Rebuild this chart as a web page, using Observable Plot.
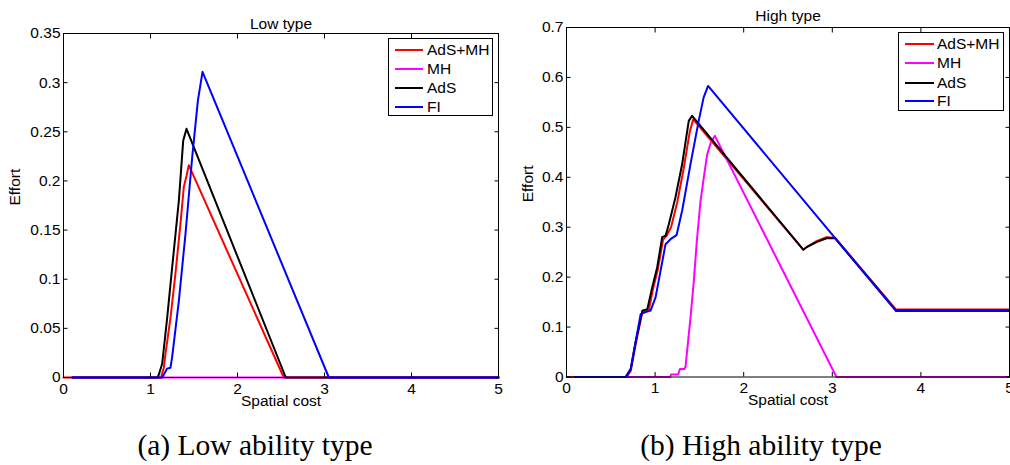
<!DOCTYPE html>
<html>
<head>
<meta charset="utf-8">
<script src="https://cdn.jsdelivr.net/npm/d3@7"></script>
<script src="https://cdn.jsdelivr.net/npm/@observablehq/plot@0.6"></script>
<style>
  html, body { margin: 0; padding: 0; background: white; overflow: hidden; }
  #wrap { position: relative; width: 1010px; height: 465px; overflow: hidden; background: white; }
  #wrap svg { position: absolute; top: 0; max-width: none !important; }
  .legend { position: absolute; border: 1px solid black; background: white; box-sizing: border-box;
            font-family: "Liberation Sans", Arial, sans-serif; font-size: 15.5px; color: black; }
  .legend .lab { position: absolute; white-space: nowrap; line-height: 18px; }
  .caption { position: absolute; font-family: "Liberation Serif", "Times New Roman", serif; font-size: 29.5px;
             color: black; white-space: nowrap; transform: translateX(-50%); line-height: 1; }
</style>
</head>
<body>
<div id="wrap"></div>
<script>
// ---------- data ----------
const seriesNames = ["AdS+MH", "MH", "AdS", "FI"];
const seriesColors = ["#ff0000", "#ff00ff", "#000000", "#0000ff"];

const xTicks = [0, 1, 2, 3, 4, 5];
const lowYTicks = [0, 0.05, 0.1, 0.15, 0.2, 0.25, 0.3, 0.35];
const highYTicks = [0, 0.1, 0.2, 0.3, 0.4, 0.5, 0.6, 0.7];

// Low type
const lowAdsMhX = [0, 1.12, 1.153, 1.172, 1.23, 1.287, 1.345, 1.383, 1.414, 1.44, 2.532, 5];
const lowAdsMhY = [0, 0, 0.010, 0.024, 0.061, 0.106, 0.157, 0.194, 0.205, 0.216, 0, 0];
const lowMhX = [0.1, 5];
const lowMhY = [0, 0];
const lowAdsX = [0.1, 1.08, 1.096, 1.134, 1.192, 1.249, 1.326, 1.376, 1.414, 2.555, 5];
const lowAdsY = [0, 0, 0.003, 0.014, 0.061, 0.112, 0.18, 0.241, 0.253, 0, 0];
const lowFiX = [0.1, 1.134, 1.16, 1.19, 1.23, 1.249, 1.326, 1.402, 1.479, 1.545, 1.598, 3.05, 5];
const lowFiY = [0, 0, 0.004, 0.009, 0.010, 0.021, 0.078, 0.146, 0.224, 0.282, 0.311, 0, 0];

// High type
const highAdsMhX = [0, 0.68, 0.725, 0.78, 0.856, 0.93, 0.975, 1.03, 1.09, 1.13, 1.18, 1.25, 1.32, 1.39, 1.43, 2.672, 2.71, 2.822, 2.935, 3.03, 3.72, 5];
const highAdsMhY = [0, 0, 0.012, 0.065, 0.13, 0.135, 0.175, 0.215, 0.275, 0.283, 0.30, 0.35, 0.415, 0.49, 0.516, 0.255, 0.26, 0.272, 0.28, 0.279, 0.135, 0.135];
const highMhX = [0.1, 1.17, 1.18, 1.26, 1.28, 1.33, 1.343, 1.40, 1.436, 1.47, 1.511, 1.55, 1.587, 1.63, 1.675, 3.047, 5];
const highMhY = [0, 0, 0.005, 0.005, 0.016, 0.016, 0.02, 0.12, 0.19, 0.27, 0.35, 0.40, 0.445, 0.47, 0.483, 0, 0];
const highAdsX = [0.1, 0.668, 0.725, 0.78, 0.856, 0.912, 0.968, 1.024, 1.08, 1.118, 1.155, 1.23, 1.305, 1.38, 1.418, 2.672, 2.71, 2.822, 2.935, 3.03, 3.72, 5];
const highAdsY = [0, 0, 0.016, 0.07, 0.133, 0.136, 0.18, 0.22, 0.28, 0.283, 0.306, 0.36, 0.426, 0.513, 0.523, 0.255, 0.26, 0.27, 0.278, 0.278, 0.133, 0.133];
const highFiX = [0.1, 0.668, 0.725, 0.78, 0.837, 0.893, 0.949, 1.006, 1.062, 1.118, 1.174, 1.242, 1.305, 1.399, 1.492, 1.548, 1.598, 3.72, 5];
const highFiY = [0, 0, 0.016, 0.07, 0.126, 0.130, 0.133, 0.16, 0.213, 0.266, 0.276, 0.284, 0.333, 0.426, 0.513, 0.56, 0.583, 0.132, 0.132];

// ---------- build ----------
function toRows(xs, ys) { return xs.map((x, i) => ({x, y: ys[i]})); }

const fmt = d => String(+d.toFixed(2));

function panel({series, yTicks, yMax, title, width, left, mL, mR, mT, mB, titleDy, yLabelDx}) {
  const tick = 4.5;
  const marks = [];
  series.forEach((s, i) => {
    marks.push(Plot.line(s, {x: "x", y: "y", stroke: seriesColors[i], strokeWidth: 2}));
  });
  marks.push(
    Plot.frame({stroke: "black", strokeWidth: 1}),
    Plot.axisX({anchor: "bottom", ticks: xTicks, tickSize: -tick, tickPadding: 5 + tick, tickFormat: fmt, label: null}),
    Plot.axisX({anchor: "top", ticks: xTicks, tickSize: -tick, tickFormat: () => "", label: null}),
    Plot.axisY({anchor: "left", ticks: yTicks, tickSize: -tick, tickPadding: 3 + tick, tickFormat: fmt, label: null}),
    Plot.axisY({anchor: "right", ticks: yTicks, tickSize: -tick, tickFormat: () => "", label: null}),
    Plot.text([title], {text: d => d, frameAnchor: "top", dy: titleDy}),
    Plot.text(["Spatial cost"], {text: d => d, frameAnchor: "bottom", dy: 28}),
    Plot.text(["Effort"], {text: d => d, frameAnchor: "left", dx: yLabelDx, rotate: -90})
  );
  const svg = Plot.plot({
    width, height: 420,
    marginLeft: mL, marginRight: mR, marginTop: mT, marginBottom: mB,
    x: {domain: [0, 5]},
    y: {domain: [0, yMax]},
    style: {fontFamily: "Liberation Sans, Arial, sans-serif", fontSize: "15.5px", background: "transparent", color: "black", overflow: "visible"},
    marks
  });
  svg.style.left = left + "px";
  return svg;
}

const wrap = document.getElementById("wrap");

const lowSeries = [toRows(lowAdsMhX, lowAdsMhY), toRows(lowMhX, lowMhY), toRows(lowAdsX, lowAdsY), toRows(lowFiX, lowFiY)];
const highSeries = [toRows(highAdsMhX, highAdsMhY), toRows(highMhX, highMhY), toRows(highAdsX, highAdsY), toRows(highFiX, highFiY)];

wrap.appendChild(panel({series: lowSeries, yTicks: lowYTicks, yMax: 0.35, title: "Low type",
  width: 505, left: 0, mL: 63, mR: 7, mT: 33, mB: 43, titleDy: -16, yLabelDx: -48}));
wrap.appendChild(panel({series: highSeries, yTicks: highYTicks, yMax: 0.7, title: "High type",
  width: 520, left: 505, mL: 61, mR: 16, mT: 27, mB: 43.5, titleDy: -18, yLabelDx: -38}));

function legend(left, top, w, h, rowTops, swLeft, swLen, textLeft) {
  const box = document.createElement("div");
  box.className = "legend";
  Object.assign(box.style, {left: left + "px", top: top + "px", width: w + "px", height: h + "px"});
  seriesNames.forEach((name, i) => {
    const sw = document.createElement("div");
    Object.assign(sw.style, {position: "absolute", left: swLeft + "px", top: (rowTops[i] - 1) + "px",
      width: swLen + "px", height: "2px", background: seriesColors[i]});
    const lab = document.createElement("div");
    lab.className = "lab";
    lab.textContent = name;
    Object.assign(lab.style, {left: textLeft + "px", top: (rowTops[i] - 9) + "px"});
    box.appendChild(sw); box.appendChild(lab);
  });
  wrap.appendChild(box);
}
legend(388, 38, 105, 78, [11.3, 30.3, 49.3, 68], 6, 28, 38);
legend(898, 32, 106, 79, [10.7, 30.3, 49.7, 68.3], 6, 29, 38);

function caption(text, cx) {
  const c = document.createElement("div");
  c.className = "caption";
  c.textContent = text;
  Object.assign(c.style, {left: cx + "px", top: "431px"});
  wrap.appendChild(c);
}
caption("(a) Low ability type", 255);
caption("(b) High ability type", 761);
</script>
</body>
</html>
